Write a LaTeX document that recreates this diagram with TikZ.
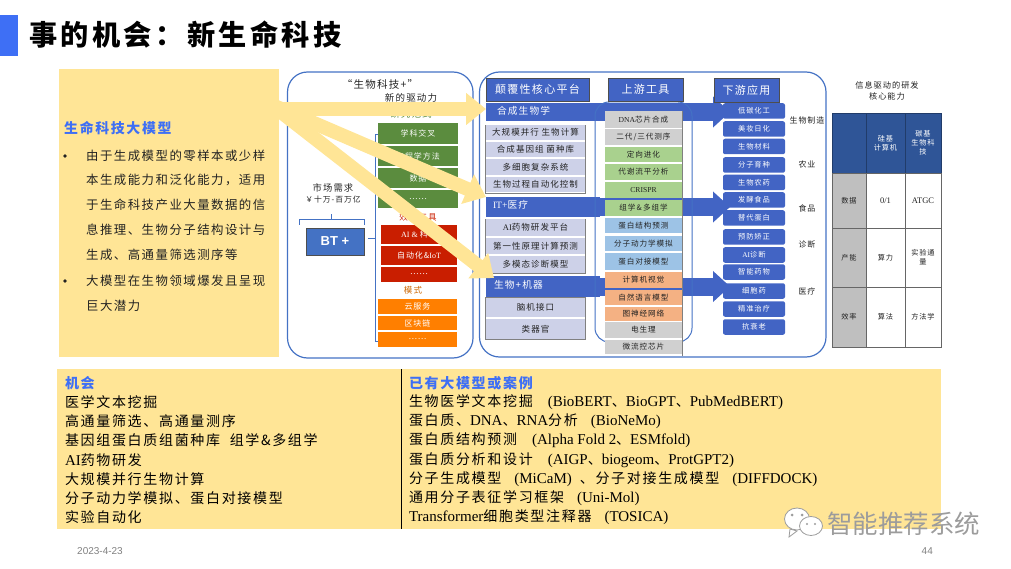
\documentclass[tikz,border=0pt]{standalone}
\usepackage{fontspec}
\usetikzlibrary{arrows.meta,calc}
\setmainfont{Noto Sans CJK SC}[LetterSpace=12]
\newfontfamily\latf{Liberation Serif}
\newfontfamily\sansf{Liberation Sans}
\newfontfamily\plainf{Noto Sans CJK SC}
\newcommand\lat[1]{{\latf #1}}
\newcommand\latb[1]{{\latf\fontsize{15}{15}\selectfont #1}}
\newcommand\fs[1]{\fontsize{#1}{#1}\selectfont}
\definecolor{accent}{HTML}{3E6FF5}
\definecolor{ylw}{HTML}{FFE596}
\definecolor{panel}{HTML}{4472C4}
\definecolor{hdr}{HTML}{4264C4}
\definecolor{grn}{HTML}{5B8C3E}
\definecolor{redd}{HTML}{C91E00}
\definecolor{org}{HTML}{FF7F00}
\definecolor{lilac}{HTML}{CDD1E8}
\definecolor{cgray}{HTML}{D0D0D0}
\definecolor{cgreen}{HTML}{A9D18E}
\definecolor{cblue}{HTML}{9DC3E6}
\definecolor{corange}{HTML}{F4B183}
\definecolor{thead}{HTML}{2F5597}
\definecolor{tgray}{HTML}{BFBFBF}
\definecolor{ink}{HTML}{222222}
\definecolor{wm}{HTML}{9C9C9C}
\tikzset{
  lbl/.style={inner sep=0pt,outer sep=0pt,text=ink,font=\fs{8}},
  line14/.style={inner sep=0pt,outer sep=0pt,anchor=west,text=black,font=\fs{14}},
  frame/.style={draw=panel,line width=1.2pt,rounded corners=20pt},
  filledbox/.style={inner sep=0pt,outer sep=0pt,draw=none},
  yarrow/.style={draw=ylw,line width=14pt,-{Triangle[length=20pt,width=31pt,fill=ylw]}},
  barrow/.style={draw=hdr,line width=18pt,shorten >=-7pt,-{Triangle[length=17pt,width=30pt,fill=hdr]}},
  rowr/.style={filledbox,fill=hdr,rounded corners=2pt,text=white,font=\fs{7.3},minimum width=62pt,minimum height=15.5pt},
  rowc/.style={filledbox,text=ink,font=\fs{7.6},minimum width=77pt},
  rowl/.style={filledbox,fill=lilac,text=ink,font=\fs{8.5},minimum width=98pt},
  head/.style={filledbox,draw=ink!80,line width=.7pt,fill=hdr,text=white,font=\fs{11}},
  stack/.style={filledbox,text=white,font=\fs{8}},
  cell/.style={filledbox,draw=gray!80!black,line width=.8pt,text=ink,font=\fs{7.2},align=center},
  brace/.style={draw=panel,line width=.9pt},
  barlabel/.style={inner sep=0pt,outer sep=0pt,anchor=west,text=white,font=\fs{9.7}},
}
\newcommand\bx[7][]{\node[#1,minimum width=#4pt-#2pt,minimum height=#5pt-#3pt] (#6) at ({(#2+#4)/2},{(#3+#5)/2}) {#7};}
\begin{document}
\begin{tikzpicture}[x=1pt,y=-1pt]
\useasboundingbox (0,0) rectangle (1011,569);
% title
\bx[filledbox,fill=accent]{0}{15}{18}{56}{titlebar}{}
\node[inner sep=0pt,anchor=west,font=\fs{28.2}\bfseries,text=black] (title) at (29,35) {事的机会：新生命科技};
% left yellow panel
\bx[filledbox,fill=ylw]{59}{69}{279}{357}{leftpanel}{}
\node[inner sep=0pt,anchor=west,font=\fs{13.9}\bfseries,text=accent] (lefthead) at (64,128) {生命科技大模型};
\foreach \i/\yy/\t in {a/156/由于生成模型的零样本或少样,b/180/本生成能力和泛化能力，适用,c/205/于生命科技产业大量数据的信,d/230/息推理、生物分子结构设计与,e/255/生成、高通量筛选测序等,f/281/大模型在生物领域爆发且呈现,g/306/巨大潜力}
  \node[inner sep=0pt,anchor=west,font=\fs{12.4},text=ink] (lt\i) at (86,\yy) {\t};
\fill[ink] (65,156) circle (1.8pt);
\fill[ink] (65,281) circle (1.8pt);
% frames
\draw[frame] (287.5,72) rectangle (473,358);
\draw[frame] (479.5,72) rectangle (826,357);
% left column texts
\node[lbl,font=\fs{10.5}] (bioplus) at (380,84) {“生物科技+”};
\node[lbl,font=\fs{9.5}] (newdrive) at (411,98) {新的驱动力};
\node[lbl,font=\fs{9.5},text=grn] (paradigm) at (411,114) {研究范式};
\node[lbl,font=\fs{9.3}] (mkt) at (333,188) {市场需求};
\node[lbl,font=\fs{7.8}] (mkt2) at (333,200) {￥十万-百万亿};
\bx[filledbox,fill=panel,draw=ink!80,line width=.7pt,text=white,font=\sansf\fs{13}\bfseries]{306}{228}{364}{255}{bt}{BT +}
\coordinate (br1) at (299,225);\coordinate (br2) at (299,219);\coordinate (br3) at (364,219);\coordinate (br4) at (364,225);
\coordinate (br5) at (331.5,219);\coordinate (br6) at (331.5,214);
\draw[brace] (br1) -- (br2) -- (br3) -- (br4) (br5) -- (br6);
\coordinate (rb1) at (378,134);\coordinate (rb2) at (375,134);\coordinate (rb3) at (375,341);\coordinate (rb4) at (378,341);
\coordinate (rb5) at (368,238);\coordinate (rb6) at (375,238);
\draw[brace] (rb1) -- (rb2) -- (rb3) -- (rb4) (rb5) -- (rb6);
% stacks
\bx[stack,fill=grn]{378}{123}{458}{144}{g1}{学科交叉}
\bx[stack,fill=grn]{378}{146}{458}{166}{g2}{工程学方法}
\bx[stack,fill=grn]{378}{168}{458}{188}{g3}{数据}
\bx[stack,fill=grn]{378}{190}{458}{208}{g4}{……}
\node[lbl,font=\fs{8.5},text=redd] (efftool) at (418,217) {效率工具};
\bx[stack,fill=redd]{381}{225}{457}{244}{r1}{\lat{AI \& }科学}
\bx[stack,fill=redd]{381}{246}{457}{265}{r2}{自动化\&\lat{IoT}}
\bx[stack,fill=redd]{381}{267}{457}{282}{r3}{……}
\node[lbl,font=\fs{8.5},text=org!80!black] (mode) at (413,290) {模式};
\bx[stack,fill=org]{378}{299}{457}{314}{o1}{云服务}
\bx[stack,fill=org]{378}{316}{457}{330}{o2}{区块链}
\bx[stack,fill=org]{378}{332}{457}{347}{o3}{……}
% bars with blue arrows
\bx[filledbox,fill=hdr]{486}{103}{600}{121}{bar1}{}
\bx[filledbox,fill=hdr]{486}{197}{600}{217}{bar2}{}
\bx[filledbox,fill=hdr]{486}{276}{600}{297}{bar3}{}
\node[barlabel] (bl-a) at (497,111) {合成生物学};
\node[barlabel] (bl-b) at (493,205) {\lat{IT+}医疗};
\node[barlabel] (bl-c) at (494,285) {生物+机器};
\foreach \i/\yy in {1/111,2/129,3/146.5,4/165,5/182.5,6/200,7/218,8/237,9/255,10/272,11/291,12/309,13/327}
  \path (754,\yy) coordinate (rp\i);
\coordinate (a1) at (723,112);\coordinate (a2) at (723,207);\coordinate (a3) at (723,286.5);
\draw[barrow] (bar1.east) -- (a1);
\draw[barrow] (bar2.east) -- (a2);
\draw[barrow] (bar3.east) -- (a3);
% inner frame
\draw[frame,line width=1pt,rounded corners=14pt] (595,102) rectangle (692,342);
% lists
\bx[filledbox,draw=gray,line width=.8pt,fill=white]{485.5}{125}{585}{193}{list1}{}
\bx[rowl]{486}{125.5}{585}{140}{l1}{大规模并行\ 生物计算}
\bx[rowl]{486}{142}{585}{157}{l2}{合成基因组\ 菌种库}
\bx[rowl]{486}{159}{585}{175}{l3}{多细胞复杂系统}
\bx[rowl]{486}{177}{585}{192.5}{l4}{生物过程自动化控制}
\bx[filledbox,draw=gray,line width=.8pt,fill=white]{485.5}{219}{585}{273}{list2}{}
\bx[rowl]{486}{219.5}{585}{236}{l5}{\lat{AI}药物研发平台}
\bx[rowl]{486}{238}{585}{254}{l6}{第一性原理计算预测}
\bx[rowl]{486}{256}{585}{272.5}{l7}{多模态诊断模型}
\bx[filledbox,draw=gray,line width=.8pt,fill=white]{485.5}{297}{585}{339}{list3}{}
\bx[rowl]{486}{297.5}{585}{317}{l8}{脑机接口}
\bx[rowl]{486}{319}{585}{338.5}{l9}{类器官}
% central list
\draw[draw=gray,line width=.7pt] (605,111) -- (682.3,111) -- (682.3,356);
\foreach \i/\a/\b/\col/\t in {1/111/128/cgray/\lat{DNA}芯片合成,2/129.5/145/cgray/{二代/三代测序},3/147/162/cgreen/定向进化,4/164/180/cgreen/代谢流平分析,5/182/198/cgreen/\lat{CRISPR},6/200/216/cgreen/组学\,\&\,多组学,7/218/233.5/cblue/蛋白结构预测,8/236/251/cblue/分子动力学模拟,9/253/270/cblue/蛋白对接模型,10/272/288/corange/计算机视觉,11/289.5/305/corange/自然语言模型,12/306.5/320.5/corange/图神经网络,13/322/338/cgray/电生理,14/340/354/cgray/微流控芯片}{
  \pgfmathsetmacro\cy{(\a+\b)/2}\pgfmathsetmacro\ch{\b-\a}
  \node[rowc,fill=\col,minimum height=\ch pt] (c\i) at (643.5,\cy) {\t};
}
% headers
\bx[head]{486}{78}{589}{101}{h1}{颠覆性核心平台}
\bx[head]{608}{78}{683}{101}{h2}{上游工具}
\bx[head]{714}{78}{779}{102}{h3}{下游应用}
% right rows
\foreach \i/\t in {1/低碳化工,2/美妆日化,3/生物材料,4/分子育种,5/生物农药,6/发酵食品,7/替代蛋白,8/预防矫正,9/\lat{AI}诊断,10/智能药物,11/细胞药,12/精准治疗,13/抗衰老}
  \node[rowr] (rr\i) at (rp\i) {\t};
\foreach \i/\yy/\t in {1/120/生物制造,2/164/农业,3/208/食品,4/244/诊断,5/291/医疗}
  \node[lbl,font=\fs{8}] (side\i) at (807,\yy) {\t};
% table
\node[lbl,font=\fs{8.2}] (tt1) at (887,85) {信息驱动的研发};
\node[lbl,font=\fs{8.2}] (tt2) at (887,96) {核心能力};
\bx[cell,fill=thead,draw=thead!70!black]{832}{113}{866}{173}{t00}{}
\bx[cell,fill=thead,draw=thead!70!black,text=white]{866}{113}{905}{173}{t01}{硅基\\[2pt]计算机}
\bx[cell,fill=thead,draw=thead!70!black,text=white]{905}{113}{941}{173}{t02}{碳基\\[2pt]生物科\\[2pt]技}
\bx[cell,fill=tgray]{832}{173}{866}{228}{t10}{数据}
\bx[cell,fill=white]{866}{173}{905}{228}{t11}{\latf\fs{8.5}0/1}
\bx[cell,fill=white]{905}{173}{941}{228}{t12}{\latf\fs{8.5}ATGC}
\bx[cell,fill=tgray]{832}{228}{866}{287}{t20}{产能}
\bx[cell,fill=white]{866}{228}{905}{287}{t21}{算力}
\bx[cell,fill=white]{905}{228}{941}{287}{t22}{实验通\\[2pt]量}
\bx[cell,fill=tgray]{832}{287}{866}{347}{t30}{效率}
\bx[cell,fill=white]{866}{287}{905}{347}{t31}{算法}
\bx[cell,fill=white]{905}{287}{941}{347}{t32}{方法学}
% yellow arrows
\coordinate (ys1) at (275,109);\coordinate (yt1) at (486,109);
\coordinate (ys2) at (272,105);\coordinate (yt2) at (486,197);
\coordinate (ys3) at (272,105);\coordinate (yt3) at (494,278);
\draw[yarrow] (ys1) -- (yt1);
\draw[yarrow] (ys2) -- (yt2);
\draw[yarrow] (ys3) -- (yt3);
% bottom panel
\bx[filledbox,fill=ylw]{57}{369}{941}{529}{botpanel}{}
\coordinate (dv1) at (401.5,369);\coordinate (dv2) at (401.5,529);
\draw[black,line width=.8pt] (dv1) -- (dv2);
\node[line14,text=accent,font=\fs{14}\bfseries] (bl0) at (65,383) {机会};
\foreach \i/\yy/\t in {1/402/医学文本挖掘,2/421/高通量筛选、高通量测序,3/440/基因组蛋白质组菌种库\ \ 组学\&多组学,4/460/\latb{AI}药物研发,5/479/大规模并行生物计算,6/498/分子动力学模拟、蛋白对接模型,7/517/实验自动化}
  \node[line14] (bl\i) at (65,\yy) {\t};
\node[line14,text=accent,font=\fs{14}\bfseries] (br0) at (409,383) {已有大模型或案例};
\node[line14] (brr1) at (409,402) {生物医学文本挖掘\hspace{15pt}\latb{(BioBERT}、\latb{BioGPT}、\latb{PubMedBERT)}};
\node[line14] (brr2) at (409,421) {蛋白质、\latb{DNA}、\latb{RNA}分析\hspace{13pt}\latb{(BioNeMo)}};
\node[line14] (brr3) at (409,440) {蛋白质结构预测\hspace{15pt}\latb{(Alpha Fold 2}、\latb{ESMfold)}};
\node[line14] (brr4) at (409,460) {蛋白质分析和设计\hspace{15pt}\latb{(AIGP}、\latb{biogeom}、\latb{ProtGPT2)}};
\node[line14] (brr5) at (409,479) {分子生成模型\hspace{13pt}\latb{(MiCaM)}\hspace{8pt}、分子对接生成模型\hspace{13pt}\latb{(DIFFDOCK)}};
\node[line14] (brr6) at (409,498) {通用分子表征学习框架\hspace{13pt}\latb{(Uni-Mol)}};
\node[line14] (brr7) at (409,517) {\latb{Transformer}细胞类型注释器\hspace{13pt}\latb{(TOSICA)}};
% footer
\node[inner sep=0pt,anchor=west,font=\sansf\fs{10},text=gray] (date) at (77,551) {2023-4-23};
\node[inner sep=0pt,anchor=east,font=\sansf\fs{10},text=gray] (page) at (933,551) {44};
% watermark
\draw[wm,fill=white,line width=.8pt] (790,529) -- (789,537) -- (797,531) -- cycle;
\draw[wm,fill=white,line width=.8pt] (797,519) ellipse (12.5 and 11);
\fill[wm] (792,515) circle (1.5pt) (802,515) circle (1.5pt);
\draw[wm,fill=white,line width=.8pt] (811,526) ellipse (11.5 and 9.5);
\fill[wm] (807,524) circle (1.2pt) (815,524) circle (1.2pt);
\node[inner sep=0pt,anchor=west,font=\plainf\fs{25.5},text=wm] (wmtext) at (827,524) {智能推荐系统};
\end{tikzpicture}
\end{document}
